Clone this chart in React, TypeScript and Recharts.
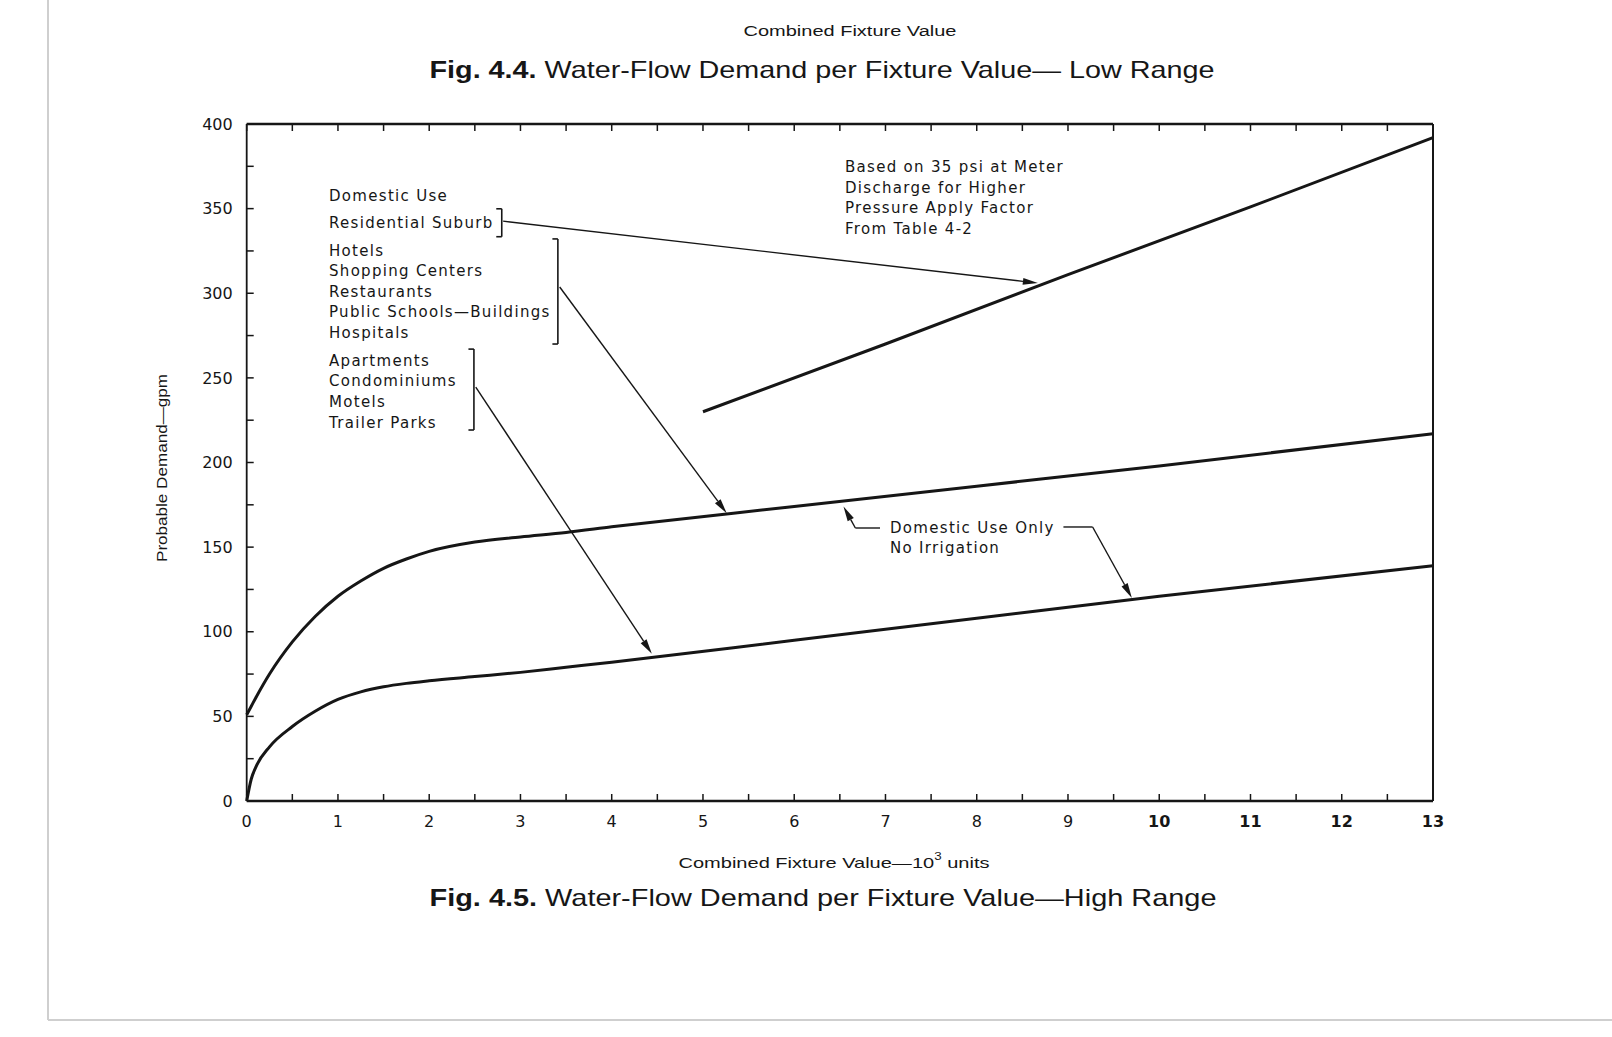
import { LineChart, Line, XAxis, YAxis, ReferenceLine } from 'recharts'

// combined fixture value (10^3 units) and probable demand (gpm)
const fixtureUnits = [0, 0.05, 0.1, 0.25, 0.5, 0.75, 1, 1.25, 1.5, 1.75, 2, 2.5, 3, 3.5, 4, 6, 8, 10, 13]
const hotelsGpm = [51, 56, 61, 75, 94, 109, 121, 130, 137.5, 143, 147.5, 153, 156, 158.7, 162, 174, 186, 198, 217]
const apartmentsGpm = [0, 13, 20, 32, 44, 53, 60, 64.5, 67.5, 69.5, 71, 73.5, 76, 79, 82, 95, 108, 121, 139]
const suburbUnits = [5, 7, 9, 11, 13]
const suburbGpm = [230, 270, 311, 351, 392]

const xTicks = [0, 0.5, 1, 1.5, 2, 2.5, 3, 3.5, 4, 4.5, 5, 5.5, 6, 6.5, 7, 7.5, 8, 8.5, 9, 9.5, 10, 10.5, 11, 11.5, 12, 12.5, 13]
const yTicks = [0, 25, 50, 75, 100, 125, 150, 175, 200, 225, 250, 275, 300, 325, 350, 375, 400]

const leftLabels = [
  'Domestic Use', 'Residential Suburb',
  'Hotels', 'Shopping Centers', 'Restaurants', 'Public Schools\u2014Buildings', 'Hospitals',
  'Apartments', 'Condominiums', 'Motels', 'Trailer Parks',
]
const leftLabelY = [196, 223, 251, 271, 292, 312, 333, 361, 381, 402, 423]
const pressureNote = ['Based on 35 psi at Meter', 'Discharge for Higher', 'Pressure Apply Factor', 'From Table 4-2']

const mainRows = fixtureUnits.map((x, i) => ({ x, hotels: hotelsGpm[i], apartments: apartmentsGpm[i] }))
const suburbRows = suburbUnits.map((x, i) => ({ x, suburb: suburbGpm[i] }))

// leader lines, in chart units
const arrows = [
  [{ x: 2.81, y: 342.6 }, { x: 8.67, y: 306 }],
  [{ x: 3.43, y: 303.7 }, { x: 5.26, y: 170 }],
  [{ x: 2.51, y: 244.6 }, { x: 4.44, y: 87 }],
  [{ x: 6.67, y: 161.3 }, { x: 6.54, y: 174 }],
  [{ x: 9.27, y: 161.9 }, { x: 9.7, y: 120 }],
]
const plainSegments = [
  [{ x: 6.94, y: 161.3 }, { x: 6.67, y: 161.3 }],
  [{ x: 8.95, y: 161.9 }, { x: 9.27, y: 161.9 }],
]
const brackets = [
  { x: 2.795, top: 349.9, bottom: 333.4 },
  { x: 3.41, top: 332.1, bottom: 270 },
  { x: 2.49, top: 267, bottom: 219.2 },
]

const ink = '#161616'
const font = "'Liberation Sans', Arial, sans-serif"
const noteFont = "'DejaVu Sans', sans-serif"

const arrowShape = (props: any) => {
  const { x1, y1, x2, y2 } = props
  const ang = Math.atan2(y2 - y1, x2 - x1)
  const len = 15
  const half = 3.5
  const bx = x2 - len * Math.cos(ang)
  const by = y2 - len * Math.sin(ang)
  const px = -Math.sin(ang) * half
  const py = Math.cos(ang) * half
  return (
    <g>
      <line x1={x1} y1={y1} x2={bx} y2={by} stroke={ink} strokeWidth={1.4} />
      <polygon points={`${x2},${y2} ${bx + px},${by + py} ${bx - px},${by - py}`} fill={ink} />
    </g>
  )
}

const XTick = (props: any) => {
  const { x, y, payload } = props
  const v = payload.value
  if (!Number.isInteger(v)) return null
  return (
    <text x={x} y={y} dy={16} textAnchor="middle" fontSize={16} fontFamily={noteFont} fill={ink} fontWeight={v >= 10 ? 'bold' : 'normal'}>
      {v}
    </text>
  )
}

const noteStyle = { fontFamily: noteFont, fontSize: 15, letterSpacing: 1.3 }

export default function App() {
  return (
    <div style={{ position: 'absolute', left: 0, top: 0, width: 1612, height: 1037, background: '#fff', fontFamily: font }}>
      <LineChart
        width={1612}
        height={1037}
        data={mainRows}
        margin={{ top: 114, right: 159, left: 186.7, bottom: 206 }}
        style={{ position: 'absolute', left: 0, top: 0 }}
      >
        <XAxis
          xAxisId="bottom"
          dataKey="x"
          type="number"
          domain={[0, 13]}
          ticks={xTicks}
          height={30}
          tickSize={-7}
          tickMargin={17}
          tick={<XTick />}
          axisLine={{ stroke: ink, strokeWidth: 2.5 }}
          tickLine={{ stroke: ink, strokeWidth: 1.5 }}
        />
        <XAxis
          xAxisId="top"
          orientation="top"
          dataKey="x"
          type="number"
          domain={[0, 13]}
          ticks={xTicks}
          height={10}
          tickSize={-7}
          tickFormatter={() => ''}
          axisLine={{ stroke: ink, strokeWidth: 2.5 }}
          tickLine={{ stroke: ink, strokeWidth: 1.5 }}
        />
        <YAxis
          yAxisId="left"
          type="number"
          domain={[0, 400]}
          ticks={yTicks}
          width={60}
          tickSize={-7}
          tickMargin={21}
          tickFormatter={(v: number) => (v % 50 === 0 ? String(v) : '')}
          tick={{ fontSize: 16, fill: ink, fontFamily: noteFont }}
          axisLine={{ stroke: ink, strokeWidth: 1.8 }}
          tickLine={{ stroke: ink, strokeWidth: 1.5 }}
        />
        <YAxis
          yAxisId="right"
          orientation="right"
          type="number"
          domain={[0, 400]}
          ticks={yTicks}
          width={20}
          tickSize={-7}
          tickFormatter={() => ''}
          axisLine={{ stroke: ink, strokeWidth: 2 }}
          tickLine={{ stroke: ink, strokeWidth: 1.5 }}
        />
        <Line xAxisId="bottom" yAxisId="left" type="monotone" dataKey="hotels" stroke={ink} strokeWidth={3} dot={false} isAnimationActive={false} />
        <Line xAxisId="bottom" yAxisId="left" type="monotone" dataKey="apartments" stroke={ink} strokeWidth={3} dot={false} isAnimationActive={false} />
        <Line xAxisId="bottom" yAxisId="left" data={suburbRows} type="linear" dataKey="suburb" stroke={ink} strokeWidth={3} dot={false} isAnimationActive={false} />
        {brackets.flatMap((b, i) => [
          <ReferenceLine key={`bt${i}`} xAxisId="bottom" yAxisId="left" segment={[{ x: b.x - 0.06, y: b.top }, { x: b.x, y: b.top }]} stroke={ink} strokeWidth={1.6} />,
          <ReferenceLine key={`bv${i}`} xAxisId="bottom" yAxisId="left" segment={[{ x: b.x, y: b.top }, { x: b.x, y: b.bottom }]} stroke={ink} strokeWidth={1.6} />,
          <ReferenceLine key={`bb${i}`} xAxisId="bottom" yAxisId="left" segment={[{ x: b.x - 0.06, y: b.bottom }, { x: b.x, y: b.bottom }]} stroke={ink} strokeWidth={1.6} />,
        ])}
        {plainSegments.map((s, i) => (
          <ReferenceLine key={`ps${i}`} xAxisId="bottom" yAxisId="left" segment={s} stroke={ink} strokeWidth={1.4} />
        ))}
        {arrows.map((s, i) => (
          <ReferenceLine key={`ar${i}`} xAxisId="bottom" yAxisId="left" segment={s} stroke={ink} shape={arrowShape} />
        ))}
      </LineChart>
      <svg width={1612} height={1037} style={{ position: 'absolute', left: 0, top: 0, pointerEvents: 'none' }} fontFamily={font} fill={ink}>
        <line x1={48} y1={0} x2={48} y2={1020} stroke="#cfcfcf" strokeWidth={2} />
        <line x1={48} y1={1020} x2={1612} y2={1020} stroke="#cfcfcf" strokeWidth={2} />
        <text x={850} y={31} textAnchor="middle" dominantBaseline="central" fontSize={14} textLength={213} lengthAdjust="spacingAndGlyphs">
          Combined Fixture Value
        </text>
        <text x={822} y={69} textAnchor="middle" dominantBaseline="central" fontSize={24} textLength={785} lengthAdjust="spacingAndGlyphs">
          <tspan fontWeight="bold">Fig. 4.4.</tspan> Water-Flow Demand per Fixture Value{'\u2014 '}Low Range
        </text>
        <text x={834} y={862} textAnchor="middle" dominantBaseline="central" fontSize={15} textLength={311} lengthAdjust="spacingAndGlyphs">
          Combined Fixture Value{'\u2014'}10<tspan fontSize={10} dy={-6}>3</tspan><tspan dy={6}> units</tspan>
        </text>
        <text x={823} y={897} textAnchor="middle" dominantBaseline="central" fontSize={24} textLength={787} lengthAdjust="spacingAndGlyphs">
          <tspan fontWeight="bold">Fig. 4.5.</tspan> Water-Flow Demand per Fixture Value{'\u2014'}High Range
        </text>
        <text x={162} y={468} textAnchor="middle" dominantBaseline="central" fontSize={14} textLength={188} lengthAdjust="spacingAndGlyphs" transform="rotate(-90 162 468)">
          Probable Demand{'\u2014'}gpm
        </text>
        {leftLabels.map((t, i) => (
          <text key={t} x={329} y={leftLabelY[i]} dominantBaseline="central" style={noteStyle}>
            {t}
          </text>
        ))}
        {pressureNote.map((t, i) => (
          <text key={t} x={845} y={167 + i * 20.7} dominantBaseline="central" style={noteStyle}>
            {t}
          </text>
        ))}
        <text x={890} y={528} dominantBaseline="central" style={noteStyle}>Domestic Use Only</text>
        <text x={890} y={548} dominantBaseline="central" style={noteStyle}>No Irrigation</text>
      </svg>
    </div>
  )
}
